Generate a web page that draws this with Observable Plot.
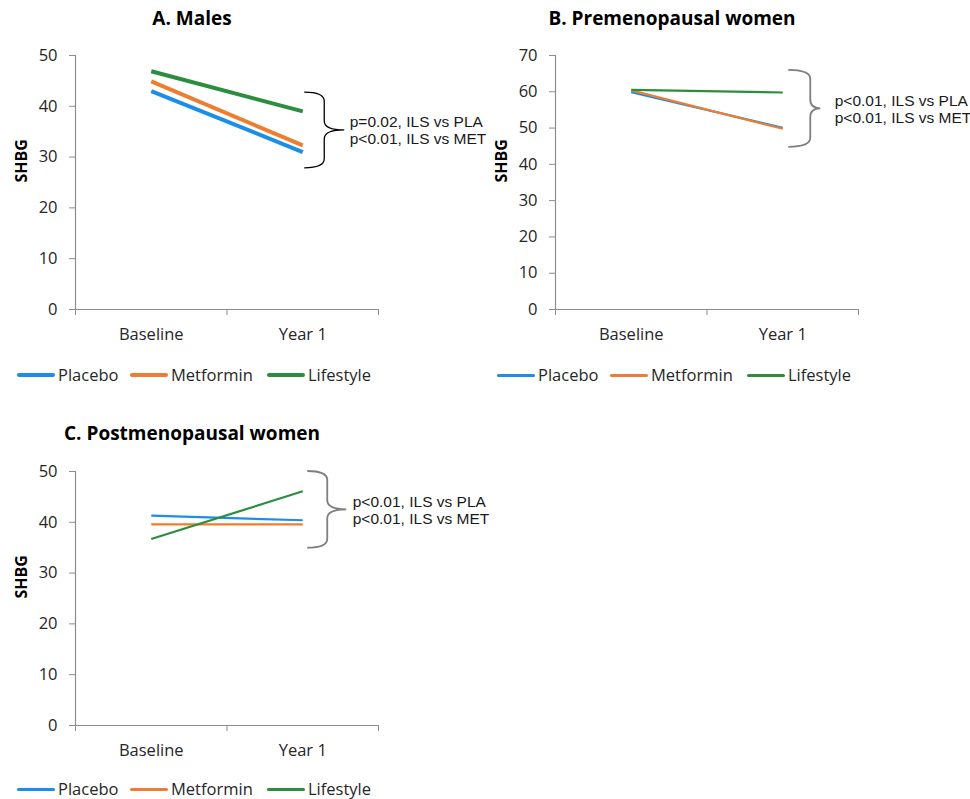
<!DOCTYPE html>
<html>
<head>
<meta charset="utf-8">
<script src="https://cdn.jsdelivr.net/npm/d3@7"></script>
<script src="https://cdn.jsdelivr.net/npm/@observablehq/plot@0.6"></script>
<style>
  html, body { margin: 0; padding: 0; background: #fff; }
  #root { position: relative; width: 970px; height: 799px; font-family: "Open Sans", sans-serif; color: #262626; }
  .title { position: absolute; font-weight: bold; font-size: 19px; text-align: center; white-space: nowrap; color: #000; }
  .panel { position: absolute; }
  .leg { position: absolute; display: flex; align-items: center; font-size: 16.5px; line-height: 18px; white-space: nowrap; color: #262626; }
  .sw { display: inline-block; width: 38px; margin-right: 3px; border-radius: 2px; }
</style>
</head>
<body>
<div id="root"></div>
<script>
// ---- data ----
const timepoints = ["Baseline", "Year 1"];
const groups = ["Placebo", "Metformin", "Lifestyle"];
const groupColors = ["#1B8EE8", "#EE7D31", "#2B8E3E"];

const malesPlacebo = [43.0, 31.0];
const malesMetformin = [44.9, 32.3];
const malesLifestyle = [46.9, 39.0];

const prePlacebo = [59.9, 50.1];
const preMetformin = [60.4, 49.8];
const preLifestyle = [60.5, 59.8];

const postPlacebo = [41.3, 40.4];
const postMetformin = [39.6, 39.6];
const postLifestyle = [36.7, 46.1];

const malesTicks = [0, 10, 20, 30, 40, 50];
const preTicks = [0, 10, 20, 30, 40, 50, 60, 70];
const postTicks = [0, 10, 20, 30, 40, 50];

const titles = ["A. Males", "B. Premenopausal women", "C. Postmenopausal women"];
const yLabel = "SHBG";
const malesNote = ["p=0.02, ILS vs PLA", "p<0.01, ILS vs MET"];
const preNote = ["p<0.01, ILS vs PLA", "p<0.01, ILS vs MET"];
const postNote = ["p<0.01, ILS vs PLA", "p<0.01, ILS vs MET"];
const malesBrace = [27.8, 42.7];
const preBrace = [44.7, 65.9];
const postBrace = [34.9, 50.0];

// ---- build ----
const root = document.getElementById("root");

function makePanel(cfg) {
  const data = [];
  cfg.series.forEach((vals, gi) => {
    vals.forEach((v, ti) => data.push({group: groups[gi], t: ti + 0.5, v}));
  });
  const yMax = d3.max(cfg.ticks);
  const braceMid = (cfg.brace[0] + cfg.brace[1]) / 2;
  const plot = Plot.plot({
    width: 480,
    height: 314,
    marginTop: 15,
    marginBottom: 45,
    marginLeft: 75,
    marginRight: 102,
    style: {overflow: "visible", fontFamily: "'Open Sans', sans-serif", fontSize: "16.5px", color: "#262626", background: "transparent"},
    x: {domain: [0, 2], axis: null},
    y: {domain: [0, yMax], axis: null},
    color: {domain: groups, range: groupColors},
    marks: [
      Plot.axisY({ticks: cfg.ticks, tickSize: 6, tickPadding: 12, stroke: "#8c8c8c", fill: "#262626", label: null, fontSize: 16.5}),
      Plot.axisX({ticks: [0, 1, 2], tickSize: 6, tickFormat: () => "", stroke: "#8c8c8c", label: null}),
      Plot.axisX({ticks: [0.5, 1.5], tickSize: 0, tickPadding: 19, tickFormat: d => timepoints[Math.floor(d)], fill: "#262626", label: null, fontSize: 16.5}),
      Plot.ruleX([0], {stroke: "#8c8c8c", strokeWidth: 1.2}),
      Plot.ruleY([0], {stroke: "#8c8c8c", strokeWidth: 1.2}),
      Plot.line(data, {x: "t", y: "v", z: "group", stroke: "group", strokeWidth: cfg.lineWidth, strokeLinecap: "butt"}),
      Plot.text([yLabel], {frameAnchor: "left", rotate: -90, dx: -54, fontWeight: "bold", fontSize: 16, fill: "#000"}),
      Plot.text([cfg.note.join("\n")], {x: 1.5, y: braceMid, dx: cfg.braceDx[2] + cfg.textGap, textAnchor: "start", lineAnchor: "middle", lineHeight: 1.1, fontSize: 15.5, fontFamily: "'Liberation Sans', Arial, sans-serif", fill: "#1a1a1a"})
    ]
  });
  // curly brace annotation, positioned with the plot's scales
  const xs = plot.scale("x"), ys = plot.scale("y");
  const x0 = xs.apply(1.5);
  const L = x0 + cfg.braceDx[0], V = x0 + cfg.braceDx[1], T = x0 + cfg.braceDx[2];
  const yt = ys.apply(cfg.brace[1]), yb = ys.apply(cfg.brace[0]), ym = ys.apply(braceMid);
  const r = 9;
  const path = `M${L},${yt} Q${V},${yt} ${V},${yt + r} L${V},${ym - r} Q${V},${ym} ${T},${ym} Q${V},${ym} ${V},${ym + r} L${V},${yb - r} Q${V},${yb} ${L},${yb}`;
  d3.select(plot).append("path").attr("d", path).attr("fill", "none")
    .attr("stroke", cfg.braceColor).attr("stroke-width", cfg.braceWidth);

  const div = document.createElement("div");
  div.className = "panel";
  div.style.left = cfg.left + "px";
  div.style.top = cfg.top + "px";
  div.appendChild(plot);
  root.appendChild(div);

  // title
  const t = document.createElement("div");
  t.className = "title";
  t.textContent = cfg.title;
  t.style.left = (cfg.titleCenter - 200) + "px";
  t.style.width = "400px";
  t.style.top = cfg.titleTop + "px";
  root.appendChild(t);

  // legend
  const legX = [17, 130, 267];
  groups.forEach((g, i) => {
    const item = document.createElement("div");
    item.className = "leg";
    item.style.left = (cfg.left + legX[i]) + "px";
    item.style.top = (cfg.legendY - 9) + "px";
    item.style.height = "18px";
    const sw = document.createElement("span");
    sw.className = "sw";
    sw.style.height = cfg.legendWidth + "px";
    sw.style.background = groupColors[i];
    item.appendChild(sw);
    const tx = document.createElement("span");
    tx.textContent = g;
    item.appendChild(tx);
    root.appendChild(item);
  });
}

makePanel({series: [malesPlacebo, malesMetformin, malesLifestyle], ticks: malesTicks, note: malesNote, brace: malesBrace,
  left: 0, top: 40, lineWidth: 4, braceDx: [2, 22, 42], textGap: 5, braceColor: "#000", braceWidth: 1.3,
  title: titles[0], titleCenter: 192, titleTop: 5, legendY: 375, legendWidth: 4});
makePanel({series: [prePlacebo, preMetformin, preLifestyle], ticks: preTicks, note: preNote, brace: preBrace,
  left: 480, top: 40, lineWidth: 2.2, braceDx: [6, 28, 38], textGap: 14, braceColor: "#7f7f7f", braceWidth: 1.8,
  title: titles[1], titleCenter: 672, titleTop: 5, legendY: 375, legendWidth: 3});
makePanel({series: [postPlacebo, postMetformin, postLifestyle], ticks: postTicks, note: postNote, brace: postBrace,
  left: 0, top: 456, lineWidth: 2.2, braceDx: [5, 25, 44], textGap: 6, braceColor: "#7f7f7f", braceWidth: 1.8,
  title: titles[2], titleCenter: 192, titleTop: 420, legendY: 789, legendWidth: 3});
</script>
</body>
</html>
